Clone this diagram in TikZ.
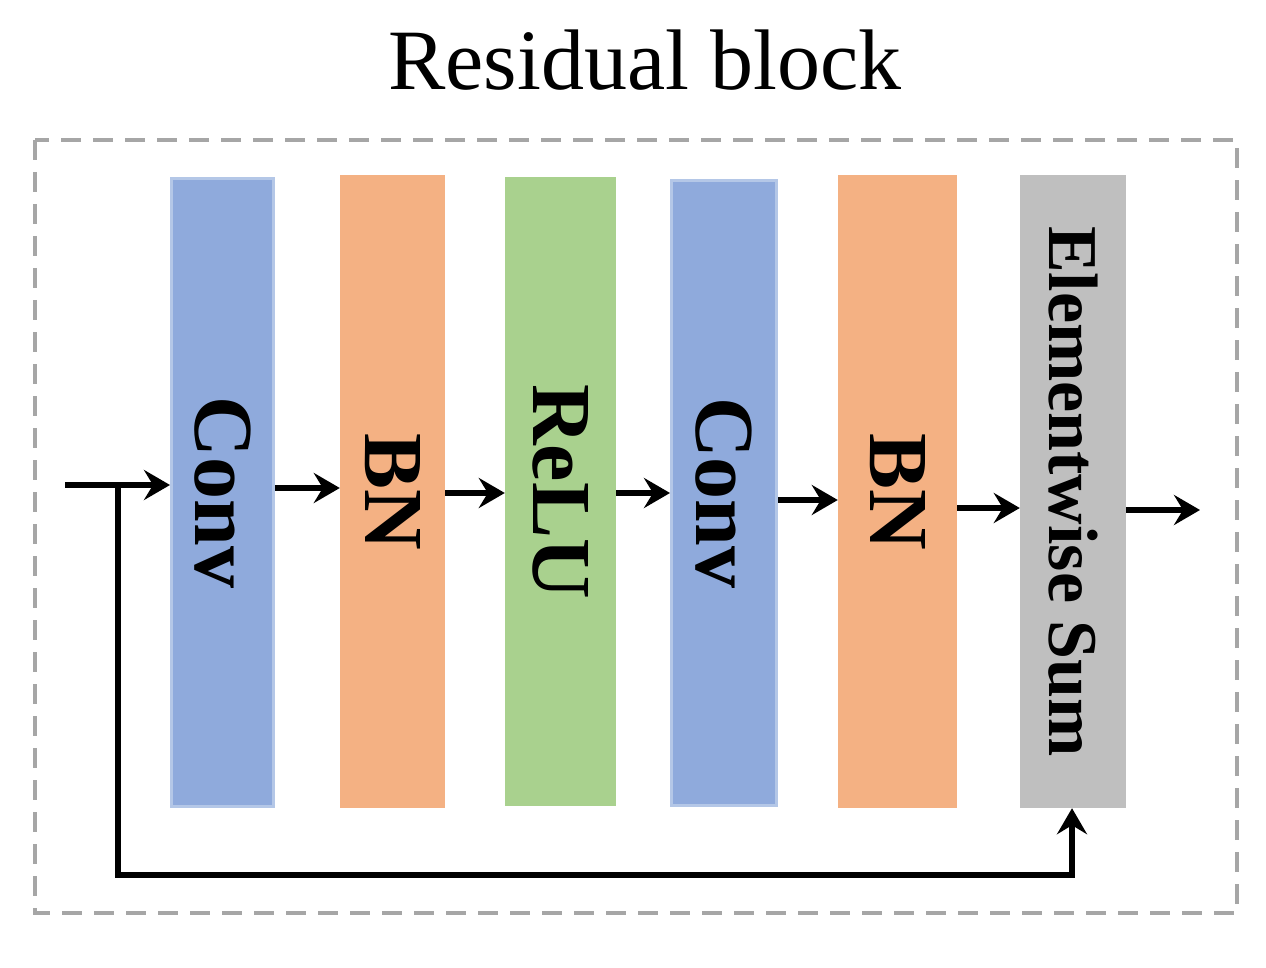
\documentclass[tikz,border=0pt]{standalone}
\usepackage{fontspec}
\setmainfont{Liberation Serif}
\usetikzlibrary{arrows.meta}
\usetikzlibrary{positioning}
\definecolor{convblue}{HTML}{8FAADC}
\definecolor{convedge}{HTML}{B4C7E7}
\definecolor{bnorange}{HTML}{F4B183}
\definecolor{relugreen}{HTML}{A9D18E}
\definecolor{sumgray}{HTML}{BFBFBF}
\tikzset{
  layer/.style={rectangle, rotate=-90, font=\fontsize{84}{84}\selectfont\bfseries, inner sep=0pt},
  flow/.style={line width=6pt, -{Stealth[length=26pt,width=30pt,inset=9pt]}}
}
\begin{document}
\begin{tikzpicture}[x=1pt,y=1pt]
\useasboundingbox (0,0) rectangle (1266,-968);

\node at (645,-60) {\fontsize{86}{86}\selectfont Residual block};
\draw[gray!70, line width=4pt, dash pattern=on 20pt off 12pt] (35,-140) rectangle (1237,-913);

\node[layer, fill=convblue, draw=convedge, line width=3pt, minimum width=628pt, minimum height=102pt] (conv1) at (222.5,-492.5) {Conv};
\node[layer, fill=bnorange, minimum width=633pt, minimum height=105pt] (bn1) at (392.5,-491.5) {BN};
\node[layer, fill=relugreen, minimum width=629pt, minimum height=111pt] (relu) at (560.5,-491.5) {ReLU};
\node[layer, fill=convblue, draw=convedge, line width=3pt, minimum width=625pt, minimum height=105pt] (conv2) at (724,-493) {Conv};
\node[layer, fill=bnorange, minimum width=633pt, minimum height=119pt] (bn2) at (897.5,-491.5) {BN};
\node[layer, fill=sumgray, minimum width=633pt, minimum height=106pt, font=\fontsize{70}{70}\selectfont\bfseries] (sum) at (1073,-491.5) {Elementwise Sum};

\coordinate (in) at (65,-485);
\coordinate (split) at (118,-485);
\coordinate (out) at (1200,-510);

\draw[flow] (in) -- (conv1.south |- in);
\draw[flow] (conv1.north |- 0,-488) -- (bn1.south |- 0,-488);
\draw[flow] (bn1.north |- 0,-493) -- (relu.south |- 0,-493);
\draw[flow] (relu.north |- 0,-493) -- (conv2.south |- 0,-493);
\draw[flow] (conv2.north |- 0,-500) -- (bn2.south |- 0,-500);
\draw[flow] (bn2.north |- 0,-508) -- (sum.south |- 0,-508);
\draw[flow] (sum.north |- out) -- (out);
\draw[flow] (split) |- (1072,-875) -- (sum.east -| 1072,0);
\end{tikzpicture}
\end{document}
